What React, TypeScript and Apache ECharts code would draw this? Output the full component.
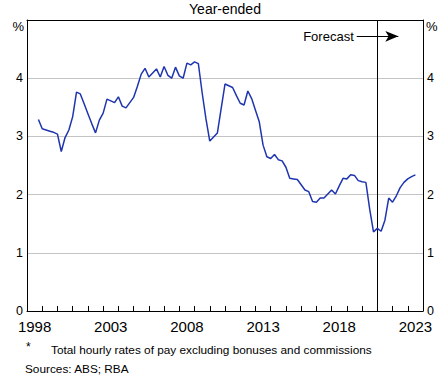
import React, { useEffect, useRef } from "react";
import * as echarts from "echarts";

const years: string[] = [
  "1998", "1999", "2000", "2001", "2002", "2003", "2004", "2005", "2006", "2007",
  "2008", "2009", "2010", "2011", "2012", "2013", "2014", "2015", "2016", "2017",
  "2018", "2019", "2020", "2021", "2022", "2023",
];

// Quarterly observations starting Sep quarter 1998 (plotted at quarter end)
const firstQuarter = 1998.75;
const quarterStep = 0.25;

// Year-ended wage growth, %
const wageGrowth: number[] = [
  3.29, 3.13, 3.11, 3.09, 3.07, 3.04, 2.74, 2.98, 3.11, 3.34,
  3.76, 3.73, 3.56, 3.39, 3.22, 3.06, 3.28, 3.40, 3.64, 3.61,
  3.58, 3.68, 3.52, 3.49, 3.58, 3.67, 3.86, 4.07, 4.17, 4.02,
  4.09, 4.16, 4.02, 4.20, 4.05, 4.00, 4.19, 4.04, 4.00, 4.26,
  4.23, 4.28, 4.25, 3.75, 3.30, 2.92, 2.99, 3.06, 3.48, 3.90,
  3.87, 3.84, 3.70, 3.57, 3.54, 3.78, 3.65, 3.45, 3.25, 2.85,
  2.65, 2.62, 2.69, 2.60, 2.58, 2.47, 2.28, 2.27, 2.26, 2.17,
  2.08, 2.05, 1.88, 1.87, 1.94, 1.94, 2.01, 2.08, 2.01, 2.15,
  2.28, 2.27, 2.34, 2.33, 2.24, 2.22, 2.21, 1.75, 1.36, 1.42,
  1.37, 1.56, 1.94, 1.87, 1.98, 2.12, 2.21, 2.27, 2.31, 2.34,
];

const forecastStart = 2021.0;
const forecastArrowFrom: [number, number] = [2019.65, 4.72];
const forecastArrowTo: [number, number] = [2022.38, 4.72];

const title = "Year-ended";
const footnote = "Total hourly rates of pay excluding bonuses and commissions";
const sources = "Sources: ABS; RBA";

const FONT = "'Liberation Sans', Arial, sans-serif";

export default function App() {
  const ref = useRef<HTMLDivElement>(null);

  useEffect(() => {
    if (!ref.current) return;
    const chart = echarts.init(ref.current, undefined, { renderer: "svg" });

    const lineData = wageGrowth.map((v, i) => [firstQuarter + i * quarterStep, v]);

    const yAxisCommon = {
      type: "value",
      min: 0,
      max: 5,
      interval: 1,
      z: 2,
      axisLine: { show: true, lineStyle: { color: "#000", width: 1 } },
      axisTick: { show: false },
      axisLabel: {
        color: "#000",
        fontSize: 12.5,
        fontFamily: FONT,
        margin: 4,
        formatter: (v: number) => (v === 5 ? "" : String(v)),
      },
    };

    chart.setOption({
      animation: false,
      textStyle: { fontFamily: FONT },
      grid: { left: 27, right: 17, top: 20, bottom: 65, containLabel: false },
      xAxis: [
        {
          type: "category",
          data: years,
          position: "bottom",
          boundaryGap: true,
          z: 3,
          axisLine: { show: true, lineStyle: { color: "#000", width: 1 } },
          axisTick: {
            show: true,
            inside: true,
            length: 5,
            interval: 0,
            alignWithLabel: false,
            lineStyle: { color: "#000", width: 1 },
          },
          axisLabel: {
            interval: 4,
            color: "#000",
            fontSize: 15,
            fontFamily: FONT,
            margin: 8,
          },
          splitLine: { show: false },
        },
        {
          type: "value",
          min: 1998,
          max: 2024,
          position: "top",
          z: 3,
          axisLine: { show: true, onZero: false, lineStyle: { color: "#000", width: 1 } },
          axisTick: { show: false },
          axisLabel: { show: false },
          splitLine: { show: false },
        },
      ],
      yAxis: [
        {
          ...yAxisCommon,
          position: "left",
          z: 1,
          splitLine: { show: true, lineStyle: { color: "#c4c4c4", width: 1.2 } },
        },
        {
          ...yAxisCommon,
          position: "right",
          splitLine: { show: false },
        },
      ],
      series: [
        {
          type: "line",
          xAxisIndex: 1,
          yAxisIndex: 0,
          data: lineData,
          showSymbol: false,
          symbol: "none",
          lineStyle: { color: "#1f35b0", width: 1.5 },
          z: 5,
          markLine: {
            silent: true,
            symbol: "none",
            animation: false,
            data: [
              {
                xAxis: forecastStart,
                lineStyle: { color: "#000", width: 1, type: "solid" },
                label: { show: false },
              },
              [
                {
                  coord: forecastArrowFrom,
                  symbol: "none",
                  lineStyle: { color: "#000", width: 1, type: "solid" },
                  label: {
                    show: true,
                    position: "start",
                    formatter: "Forecast",
                    color: "#000",
                    fontSize: 13,
                    fontFamily: FONT,
                    distance: 3,
                  },
                },
                {
                  coord: forecastArrowTo,
                  symbol: "arrow",
                  symbolSize: [8, 13],
                },
              ],
            ],
          },
        },
      ],
      graphic: [
        {
          type: "text",
          x: 225,
          y: 9,
          style: {
            text: title,
            fill: "#000",
            font: `14px ${FONT}`,
            textAlign: "center",
            textVerticalAlign: "middle",
          },
        },
        {
          type: "text",
          x: 24,
          y: 26,
          style: {
            text: "%",
            fill: "#000",
            font: `13px ${FONT}`,
            textAlign: "right",
            textVerticalAlign: "middle",
          },
        },
        {
          type: "text",
          x: 426,
          y: 26,
          style: {
            text: "%",
            fill: "#000",
            font: `13px ${FONT}`,
            textAlign: "left",
            textVerticalAlign: "middle",
          },
        },
        {
          type: "text",
          x: 26,
          y: 347,
          style: {
            text: "*",
            fill: "#000",
            font: `12px ${FONT}`,
            textAlign: "left",
            textVerticalAlign: "middle",
          },
        },
        {
          type: "text",
          x: 51,
          y: 350,
          style: {
            text: footnote,
            fill: "#000",
            font: `11.8px ${FONT}`,
            textAlign: "left",
            textVerticalAlign: "middle",
          },
        },
        {
          type: "text",
          x: 25,
          y: 369,
          style: {
            text: sources,
            fill: "#000",
            font: `11.8px ${FONT}`,
            textAlign: "left",
            textVerticalAlign: "middle",
          },
        },
      ],
    });

    return () => {
      chart.dispose();
    };
  }, []);

  return (
    <div
      ref={ref}
      style={{ position: "fixed", left: 0, top: 0, width: 440, height: 376, background: "#fff" }}
    />
  );
}
